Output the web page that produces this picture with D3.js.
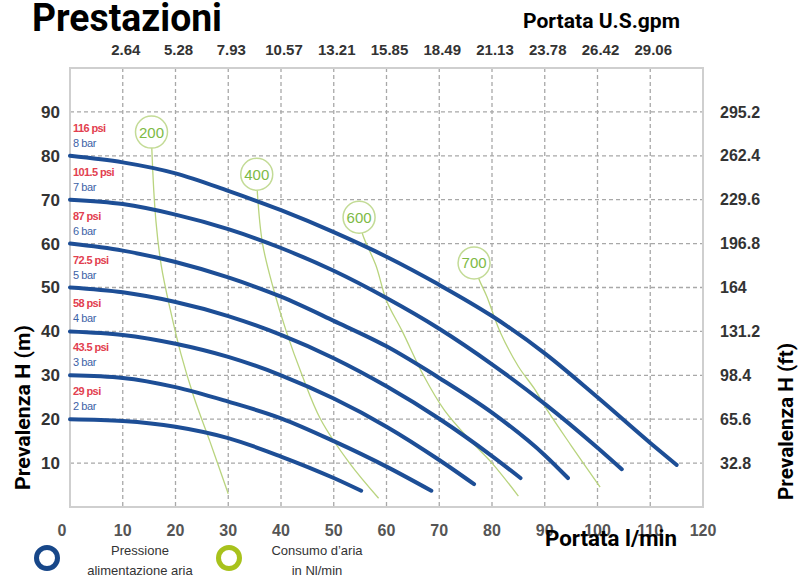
<!DOCTYPE html>
<html>
<head>
<meta charset="utf-8">
<script src="https://cdn.jsdelivr.net/npm/d3@7"></script>
<style>
  body { margin: 0; background: #fff; }
  svg { display: block; }
</style>
</head>
<body>
<svg width="803" height="577"></svg>
<script>
// portata l/min (bottom) and the matching U.S. gpm labels (top)
var flowTicks = [0, 10, 20, 30, 40, 50, 60, 70, 80, 90, 100, 110, 120];
var gpmLabels = ["2.64", "5.28", "7.93", "10.57", "13.21", "15.85", "18.49", "21.13", "23.78", "26.42", "29.06"];
// prevalenza m (left) and ft (right)
var headTicks = [10, 20, 30, 40, 50, 60, 70, 80, 90];
var ftLabels = ["32.8", "65.6", "98.4", "131.2", "164", "196.8", "229.6", "262.4", "295.2"];

// pressure curves, [l/min, m]
var barLabels = ["8 bar", "7 bar", "6 bar", "5 bar", "4 bar", "3 bar", "2 bar"];
var psiLabels = ["116 psi", "101.5 psi", "87 psi", "72.5 psi", "58 psi", "43.5 psi", "29 psi"];
var bar8 = [[0, 80], [10, 78.5], [20, 76], [30, 72], [40, 67.6], [50, 62.6], [60, 57], [70, 50.6], [80, 43.5], [90, 35], [100, 25], [110, 14.6], [115, 9.6]];
var bar7 = [[0, 70], [10, 69], [20, 66.6], [30, 63.3], [40, 59], [50, 53.8], [60, 47.6], [70, 40.6], [80, 32.5], [90, 23.5], [100, 13.5], [104.6, 8.6]];
var bar6 = [[0, 60], [10, 58.4], [20, 55.8], [30, 52.3], [40, 47.9], [50, 42.4], [60, 36.6], [70, 29.4], [80, 21.5], [90, 11.8], [94.4, 6.6]];
var bar5 = [[0, 50], [10, 48.9], [20, 46.7], [30, 43.5], [40, 39.2], [50, 33.9], [60, 27.5], [70, 20.1], [80, 11.6], [85.4, 6.6]];
var bar4 = [[0, 40], [10, 39.2], [20, 37.2], [30, 34.2], [40, 30], [50, 24.7], [60, 18.3], [70, 10.7], [76.6, 5.2]];
var bar3 = [[0, 30], [10, 29.4], [20, 27.3], [30, 24], [40, 20.2], [50, 15], [60, 9.2], [68.5, 3.7]];
var bar2 = [[0, 20], [10, 19.6], [20, 18.3], [30, 15.7], [40, 11.5], [50, 6.6], [55.2, 3.7]];
var pressureCurves = [bar8, bar7, bar6, bar5, bar4, bar3, bar2];

// air consumption Nl/min, first point = label bubble
var airLabels = ["200", "400", "600", "700"];
var air200 = [[15.45, 85.4], [15.5, 82], [16.3, 65], [17.3, 55], [19, 45], [21, 35], [23.5, 25], [26.5, 15], [30, 3]];
var air400 = [[35.4, 75.8], [35.5, 72], [36.5, 60], [38.5, 50], [41, 40], [44, 30], [47.5, 20], [53, 10], [58.5, 2]];
var air600 = [[54.8, 66], [55.5, 62], [58, 55], [60, 47], [63, 40], [67, 30], [71, 22], [76, 15], [80, 10], [85, 2.5]];
var air700 = [[76.6, 55.6], [77.5, 52], [79, 48], [81.5, 40], [85, 32], [88, 27], [90.5, 22], [95, 14], [100.5, 4.5]];
var airCurves = [air200, air400, air600, air700];

var svg = d3.select('svg');
var x = d3.scaleLinear().domain([0, 120]).range([70, 703]);
var y = d3.scaleLinear().domain([0, 100]).range([507, 68]);

var boldFont = 'Roboto, "Liberation Sans", sans-serif';
var tickFont = '"Liberation Sans", Arial, sans-serif';

// titles
svg.append('text').text('Prestazioni')
    .attr('x', 32).attr('y', 31)
    .attr('textLength', 190).attr('lengthAdjust', 'spacingAndGlyphs')
    .style('font-family', boldFont).style('font-weight', 700)
    .style('font-size', '38px').style('fill', '#000');

svg.append('text').text('Portata U.S.gpm')
    .attr('x', 523).attr('y', 28)
    .attr('textLength', 157).attr('lengthAdjust', 'spacingAndGlyphs')
    .style('font-family', boldFont).style('font-weight', 700)
    .style('font-size', '21px').style('fill', '#000');

// grid
var grid = svg.append('g')
    .style('stroke', '#a8a8a8').style('stroke-width', 1.3)
    .style('stroke-dasharray', '4,3');
grid.selectAll('.vg').data(flowTicks.slice(1, -1)).enter().append('line')
    .attr('x1', d => x(d)).attr('x2', d => x(d))
    .attr('y1', y(100)).attr('y2', y(0));
grid.selectAll('.hg').data(headTicks).enter().append('line')
    .attr('y1', d => y(d)).attr('y2', d => y(d))
    .attr('x1', x(0)).attr('x2', x(120));

svg.append('rect')
    .attr('x', x(0)).attr('y', y(100))
    .attr('width', x(120) - x(0)).attr('height', y(0) - y(100))
    .style('fill', 'none').style('stroke', '#cfcfcf').style('stroke-width', 2);

// tick labels
svg.selectAll('.gpm').data(gpmLabels).enter().append('text')
    .text(d => d)
    .attr('x', (d, i) => x(flowTicks[i + 1]) + 3)
    .attr('y', 55)
    .style('text-anchor', 'middle')
    .style('font-family', tickFont).style('font-weight', 700)
    .style('font-size', '15px').style('fill', '#333');

svg.selectAll('.hm').data(headTicks).enter().append('text')
    .text(d => d)
    .attr('x', 60).attr('y', d => y(d)).attr('dy', '0.35em')
    .style('text-anchor', 'end')
    .style('font-family', tickFont).style('font-weight', 700)
    .style('font-size', '17px').style('fill', '#333');

svg.selectAll('.hft').data(ftLabels).enter().append('text')
    .text(d => d)
    .attr('x', 720).attr('y', (d, i) => y(headTicks[i])).attr('dy', '0.35em')
    .style('font-family', tickFont).style('font-weight', 700)
    .style('font-size', '16px').style('fill', '#333');

svg.selectAll('.fl').data(flowTicks).enter().append('text')
    .text(d => d)
    .attr('x', d => x(d) + (d === 0 ? -8 : 0)).attr('y', 536)
    .style('text-anchor', 'middle')
    .style('font-family', tickFont).style('font-weight', 700)
    .style('font-size', '16px').style('fill', '#555');

// air consumption lines
svg.selectAll('.air').data(airCurves).enter().append('path')
    .attr('d', d3.line().x(p => x(p[0])).y(p => y(p[1])).curve(d3.curveCatmullRom))
    .style('fill', 'none').style('stroke', '#b9d47e').style('stroke-width', 1.3);

// pressure curves
svg.selectAll('.pc').data(pressureCurves).enter().append('path')
    .attr('d', d3.line().x(d => x(d[0])).y(d => y(d[1])).curve(d3.curveMonotoneX))
    .style('fill', 'none').style('stroke', '#1d4e96')
    .style('stroke-width', 4).style('stroke-linecap', 'round');

// bubbles
var bubble = svg.selectAll('.bub').data(airCurves).enter().append('g')
    .attr('transform', d => 'translate(' + x(d[0][0]) + ',' + y(d[0][1]) + ')');
bubble.append('circle').attr('r', 16)
    .style('fill', '#fff').style('stroke', '#c3db96').style('stroke-width', 1.5);
bubble.append('text').text((d, i) => airLabels[i])
    .attr('dy', '0.36em').style('text-anchor', 'middle')
    .style('font-family', tickFont).style('font-size', '15px').style('fill', '#7dba45');

// pressure labels
svg.selectAll('.psi').data(psiLabels).enter().append('text')
    .text(d => d)
    .attr('x', x(0) + 3).attr('y', (d, i) => y(pressureCurves[i][0][1]) - 24)
    .style('font-family', tickFont).style('font-size', '11px').style('font-weight', 700)
    .style('letter-spacing', '-0.6px').style('fill', '#e2404f');
svg.selectAll('.bar').data(barLabels).enter().append('text')
    .text(d => d)
    .attr('x', x(0) + 3).attr('y', (d, i) => y(pressureCurves[i][0][1]) - 9)
    .style('font-family', tickFont).style('font-size', '11px')
    .style('letter-spacing', '-0.4px').style('fill', '#3d62a6');

// axis titles
svg.append('text').text('Portata l/min')
    .attr('x', 545).attr('y', 546)
    .attr('textLength', 132).attr('lengthAdjust', 'spacingAndGlyphs')
    .style('font-family', boldFont).style('font-weight', 700)
    .style('font-size', '22px').style('fill', '#000');

svg.append('text').text('Prevalenza H (m)')
    .attr('transform', 'translate(30,490) rotate(-90)')
    .attr('textLength', 165).attr('lengthAdjust', 'spacingAndGlyphs')
    .style('font-family', boldFont).style('font-weight', 700)
    .style('font-size', '21px').style('fill', '#000');

svg.append('text').text('Prevalenza H (ft)')
    .attr('transform', 'translate(793,500) rotate(-90)')
    .attr('textLength', 157).attr('lengthAdjust', 'spacingAndGlyphs')
    .style('font-family', boldFont).style('font-weight', 700)
    .style('font-size', '21px').style('fill', '#000');

// legend
var legendItems = [
    { lines: ['Pressione', 'alimentazione aria'], color: '#174789', cx: 47, tx: 140 },
    { lines: ['Consumo d\u2019aria', 'in Nl/min'], color: '#a8c21c', cx: 229, tx: 317 }
];
var lg = svg.selectAll('.lg').data(legendItems).enter().append('g');
lg.append('circle')
    .attr('cx', d => d.cx).attr('cy', 558).attr('r', 10.5)
    .style('fill', 'none').style('stroke', d => d.color).style('stroke-width', 5);
lg.each(function(d) {
    d3.select(this).selectAll('text').data(d.lines).enter().append('text')
        .text(t => t)
        .attr('x', d.tx).attr('y', (t, i) => 555 + i * 20)
        .style('text-anchor', 'middle')
        .style('font-family', tickFont).style('font-size', '13px').style('fill', '#333');
});
</script>
</body>
</html>
